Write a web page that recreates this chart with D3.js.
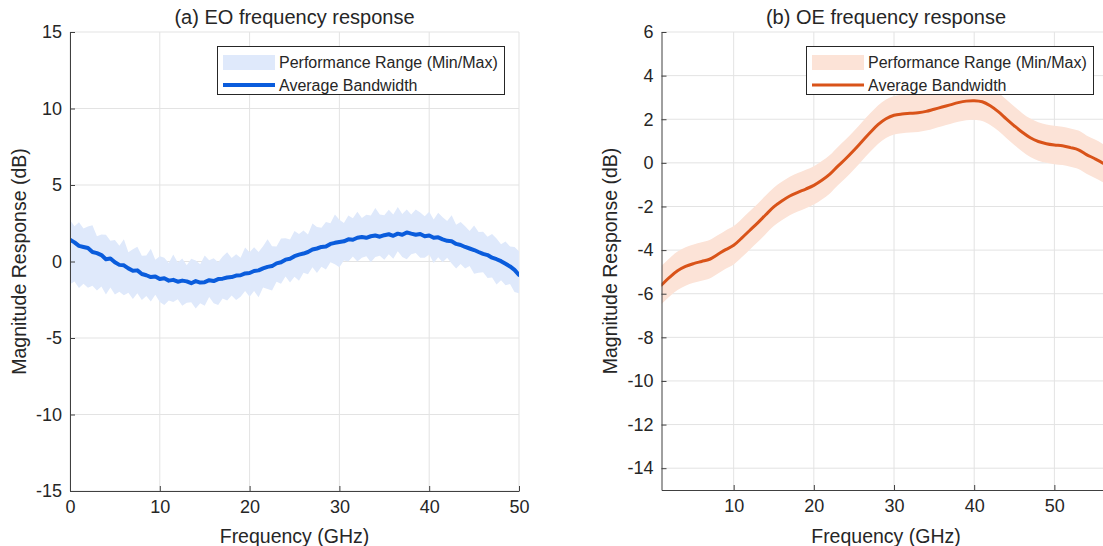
<!DOCTYPE html>
<html>
<head>
<meta charset="utf-8">
<script src="https://cdn.jsdelivr.net/npm/d3@7"></script>
<style>
body { margin: 0; background: #fff; }
text { font-family: "Liberation Sans", Arial, Helvetica, sans-serif; fill: #262626; }
</style>
</head>
<body>
<svg id="chart" width="1103" height="546"></svg>
<script>
/* (a) EO : 0 - 50 GHz, 0.5 GHz おき */
const EO_STEP = 0.5;
const eoMean = [
	1.42, 1.25, 1.02, 0.95, 0.88, 0.62, 0.55, 0.42, 0.15, 0.20,
	-0.05, -0.22, -0.25, -0.45, -0.60, -0.58, -0.82, -0.90, -1.02, -0.98,
	-1.15, -1.10, -1.25, -1.20, -1.32, -1.25, -1.30, -1.42, -1.28, -1.38,
	-1.35, -1.22, -1.28, -1.15, -1.12, -1.05, -1.02, -0.92, -0.90, -0.78,
	-0.75, -0.62, -0.58, -0.45, -0.35, -0.30, -0.12, -0.05, 0.12, 0.18,
	0.35, 0.45, 0.52, 0.62, 0.78, 0.85, 0.95, 0.98, 1.15, 1.22,
	1.28, 1.32, 1.45, 1.42, 1.55, 1.60, 1.55, 1.65, 1.70, 1.62,
	1.72, 1.78, 1.68, 1.82, 1.75, 1.90, 1.82, 1.75, 1.80, 1.65,
	1.70, 1.55, 1.58, 1.45, 1.35, 1.32, 1.15, 1.08, 0.95, 0.85,
	0.75, 0.62, 0.50, 0.42, 0.25, 0.15, 0.02, -0.15, -0.32, -0.55,
	-0.88
];
const eoMax = [
	2.72, 2.30, 2.57, 2.15, 2.28, 2.37, 1.65, 1.77, 1.75, 1.35,
	1.40, 1.03, 1.45, 0.60, 0.80, 0.97, 0.38, 0.40, 0.83, 0.12,
	0.35, 0.25, -0.10, 0.45, -0.07, 0.20, -0.25, 0.18, 0.07, -0.18,
	0.40, 0.08, 0.22, -0.05, 0.33, 0.60, 0.23, 0.48, 0.25, 0.92,
	0.60, 0.93, 0.62, 1.00, 1.45, 1.00, 0.98, 1.50, 1.52, 1.43,
	2.00, 1.80, 2.02, 1.77, 2.48, 2.25, 2.20, 2.58, 2.50, 3.07,
	2.73, 2.52, 3.00, 2.82, 3.25, 2.85, 3.05, 3.00, 3.50, 3.07,
	3.02, 3.38, 3.08, 3.57, 3.10, 3.40, 3.07, 3.40, 3.20, 2.95,
	3.25, 2.75, 3.18, 2.90, 2.65, 3.02, 2.40, 2.58, 2.30, 2.00,
	2.35, 1.92, 1.95, 1.62, 1.80, 1.50, 1.12, 1.30, 0.98, 0.95,
	0.67
];
const eoMin = [
	-1.48, -1.30, -1.73, -1.45, -1.72, -1.58, -1.90, -1.63, -2.15, -1.70,
	-2.15, -1.97, -2.20, -2.05, -2.45, -2.08, -2.52, -2.25, -2.62, -2.18,
	-2.65, -2.85, -2.55, -2.65, -2.47, -2.90, -2.70, -2.67, -3.08, -2.73,
	-2.90, -2.32, -2.73, -2.85, -2.42, -2.55, -2.22, -2.52, -2.30, -1.93,
	-2.30, -1.92, -2.33, -1.70, -1.80, -1.90, -1.32, -1.45, -0.98, -1.37,
	-1.00, -1.25, -0.73, -0.83, -0.37, -0.75, -0.35, -0.52, -0.05, -0.18,
	-0.37, 0.07, 0.00, 0.32, 0.00, 0.25, 0.35, -0.05, 0.30, 0.37,
	0.12, 0.48, 0.18, 0.67, 0.30, 0.15, 0.47, 0.55, 0.25, 0.25,
	0.45, -0.10, 0.28, -0.05, 0.25, -0.13, -0.45, -0.17, -0.45, -0.30,
	-0.80, -0.73, -0.70, -1.08, -1.05, -1.50, -1.23, -1.55, -1.47, -2.00,
	-2.08
];

/* (b) OE : 1 - 57 GHz, 1 GHz おき */
const oeFreq = [
	1, 2, 3, 4, 5, 6, 7, 8, 9, 10, 11, 12, 13, 14, 15, 16, 17, 18, 19, 20,
	21, 22, 23, 24, 25, 26, 27, 28, 29, 30, 31, 32, 33, 34, 35, 36, 37, 38, 39, 40,
	41, 42, 43, 44, 45, 46, 47, 48, 49, 50, 51, 52, 53, 54, 55, 56, 57
];
const oeMean = [
	-5.60, -5.25, -4.95, -4.75, -4.62, -4.52, -4.42, -4.20, -3.98, -3.78,
	-3.45, -3.10, -2.75, -2.38, -2.02, -1.75, -1.52, -1.35, -1.20, -1.03,
	-0.80, -0.52, -0.15, 0.20, 0.58, 0.98, 1.38, 1.75, 2.02, 2.18,
	2.24, 2.27, 2.30, 2.36, 2.46, 2.56, 2.66, 2.76, 2.83, 2.85,
	2.80, 2.62, 2.35, 2.02, 1.70, 1.40, 1.15, 0.98, 0.88, 0.82,
	0.78, 0.70, 0.60, 0.38, 0.20, 0.00, -0.25
];
const oeMax = [
	-4.72, -4.37, -4.07, -3.87, -3.74, -3.64, -3.54, -3.32, -3.10, -2.90,
	-2.57, -2.22, -1.87, -1.50, -1.14, -0.87, -0.64, -0.47, -0.32, -0.15,
	0.08, 0.36, 0.73, 1.08, 1.46, 1.86, 2.26, 2.63, 2.90, 3.06,
	3.12, 3.15, 3.18, 3.24, 3.34, 3.44, 3.54, 3.64, 3.71, 3.73,
	3.68, 3.50, 3.23, 2.90, 2.58, 2.28, 2.03, 1.86, 1.76, 1.70,
	1.66, 1.58, 1.48, 1.26, 1.08, 0.88, 0.63
];
const oeMin = [
	-6.48, -6.13, -5.83, -5.63, -5.50, -5.40, -5.30, -5.08, -4.86, -4.66,
	-4.33, -3.98, -3.63, -3.26, -2.90, -2.63, -2.40, -2.23, -2.08, -1.91,
	-1.68, -1.40, -1.03, -0.68, -0.30, 0.10, 0.50, 0.87, 1.14, 1.30,
	1.36, 1.39, 1.42, 1.48, 1.58, 1.68, 1.78, 1.88, 1.95, 1.97,
	1.92, 1.74, 1.47, 1.14, 0.82, 0.52, 0.27, 0.10, 0.00, -0.06,
	-0.10, -0.18, -0.28, -0.50, -0.68, -0.88, -1.13
];

/* 目盛り */
const eoXTicks = [0, 10, 20, 30, 40, 50];
const eoYTicks = [-15, -10, -5, 0, 5, 10, 15];
const oeXTicks = [10, 20, 30, 40, 50];
const oeYTicks = [-14, -12, -10, -8, -6, -4, -2, 0, 2, 4, 6];

const legendLabels = ['Performance Range (Min/Max)', 'Average Bandwidth'];

const svg = d3.select('#chart');

const drawPanel = (p) => {
	const g = svg.append('g');
	const x = d3.scaleLinear().domain(p.xDomain).range([p.left, p.right]);
	const y = d3.scaleLinear().domain(p.yDomain).range([p.bottom, p.top]);

	// グリッド
	g.append('g').selectAll('line').data(p.xTicks).join('line')
		.attr('x1', d => x(d)).attr('x2', d => x(d))
		.attr('y1', p.top).attr('y2', p.bottom)
		.attr('stroke', '#e3e3e3');
	g.append('g').selectAll('line').data(p.yTicks).join('line')
		.attr('x1', p.left).attr('x2', p.right)
		.attr('y1', d => y(d)).attr('y2', d => y(d))
		.attr('stroke', '#e3e3e3');

	// クリップ
	g.append('clipPath').attr('id', p.id + '-clip')
		.append('rect')
		.attr('x', p.left).attr('y', p.top)
		.attr('width', p.right - p.left).attr('height', p.bottom - p.top);

	const data = p.mean.map((v, i) => ({ f: p.freq(i), mean: v, lo: p.min[i], hi: p.max[i] }));

	const area = d3.area()
		.x(d => x(d.f)).y0(d => y(d.lo)).y1(d => y(d.hi))
		.curve(p.curve);
	const line = d3.line()
		.x(d => x(d.f)).y(d => y(d.mean))
		.curve(p.curve);

	const plot = g.append('g').attr('clip-path', 'url(#' + p.id + '-clip)');
	plot.append('path').datum(data)
		.attr('fill', p.fill).attr('d', area);
	plot.append('path').datum(data)
		.attr('fill', 'none')
		.attr('stroke', p.color)
		.attr('stroke-width', p.lineWidth)
		.attr('stroke-linejoin', 'round')
		.attr('stroke-linecap', 'round')
		.attr('d', line);

	// 軸 (目盛りは内向き)
	const ax = g.append('g')
		.attr('transform', 'translate(0,' + p.bottom + ')')
		.call(d3.axisBottom(x).tickValues(p.xTicks).tickFormat(d => String(d))
			.tickSizeInner(-5).tickSizeOuter(0).tickPadding(9));
	const ay = g.append('g')
		.attr('transform', 'translate(' + p.left + ',0)')
		.call(d3.axisLeft(y).tickValues(p.yTicks).tickFormat(d => String(d))
			.tickSizeInner(-5).tickSizeOuter(0).tickPadding(8));
	for (let a of [ax, ay]) {
		a.select('.domain').attr('stroke', '#404040');
		a.selectAll('.tick line').attr('stroke', '#404040');
		a.selectAll('.tick text').style('font-size', '18px').attr('fill', '#262626');
	}

	// タイトル・ラベル
	const midX = p.left + 224.5;
	g.append('text')
		.attr('x', midX).attr('y', 24)
		.attr('text-anchor', 'middle')
		.style('font-size', '20px')
		.text(p.title);
	g.append('text')
		.attr('x', midX).attr('y', 543)
		.attr('text-anchor', 'middle')
		.style('font-size', '19.5px')
		.text('Frequency (GHz)');
	g.append('text')
		.attr('transform', 'translate(' + p.yLabelX + ',' + ((p.top + p.bottom) / 2) + ') rotate(-90)')
		.attr('text-anchor', 'middle')
		.style('font-size', '19.5px')
		.text('Magnitude Response (dB)');

	// 凡例
	const lg = g.append('g').attr('transform', 'translate(' + p.legendX + ',46)');
	lg.append('rect')
		.attr('x', 0.5).attr('y', 0.5).attr('width', 287).attr('height', 48)
		.attr('fill', '#fff').attr('stroke', '#262626');
	lg.append('rect')
		.attr('x', 6).attr('y', 9).attr('width', 52).attr('height', 15)
		.attr('fill', p.fill);
	lg.append('line')
		.attr('x1', 6).attr('x2', 58).attr('y1', 39).attr('y2', 39)
		.attr('stroke', p.color).attr('stroke-width', p.lineWidth);
	lg.selectAll('text.lbl').data(legendLabels).join('text')
		.attr('class', 'lbl')
		.attr('x', 62).attr('y', (d, i) => 22 + i * 23)
		.style('font-size', '16px')
		.text(d => d);
};

drawPanel({
	id: 'eo', title: '(a) EO frequency response',
	left: 70, right: 519, top: 32, bottom: 491,
	xDomain: [0, 50], yDomain: [-15, 15],
	xTicks: eoXTicks, yTicks: eoYTicks,
	freq: i => i * EO_STEP, mean: eoMean, min: eoMin, max: eoMax,
	curve: d3.curveLinear,
	color: '#0a5cdc', fill: '#dfe9fb', lineWidth: 4,
	yLabelX: 26, legendX: 217
});

drawPanel({
	id: 'oe', title: '(b) OE frequency response',
	left: 661.5, right: 1110.5, top: 32, bottom: 490,
	xDomain: [1, 57], yDomain: [-15, 6],
	xTicks: oeXTicks, yTicks: oeYTicks,
	freq: i => oeFreq[i], mean: oeMean, min: oeMin, max: oeMax,
	curve: d3.curveCatmullRom,
	color: '#d95319', fill: '#fce3d7', lineWidth: 3,
	yLabelX: 617, legendX: 806
});
</script>
</body>
</html>
